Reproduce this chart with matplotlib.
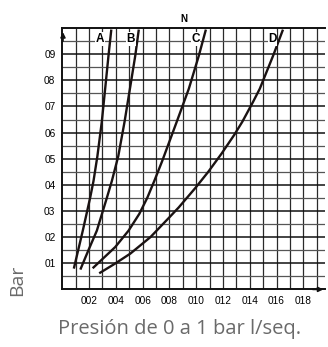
import matplotlib.pyplot as plt
import numpy as np

# curvas A, B, C, D (caudal l/seg, presion bar)
a_x = [0.0088, 0.0153, 0.0208, 0.0233, 0.0262, 0.0295, 0.032, 0.0345, 0.0365]
a_y = [0.084, 0.225, 0.351, 0.415, 0.51, 0.642, 0.768, 0.895, 0.99]
b_x = [0.0138, 0.0195, 0.0258, 0.0333, 0.037, 0.0418, 0.0465, 0.0505, 0.0545, 0.057]
b_y = [0.08, 0.15, 0.225, 0.351, 0.415, 0.51, 0.642, 0.768, 0.895, 0.99]
c_x = [0.0233, 0.0395, 0.0495, 0.0575, 0.0635, 0.0687, 0.0745, 0.080, 0.0855, 0.0945, 0.102, 0.107]
c_y = [0.084, 0.162, 0.225, 0.289, 0.351, 0.415, 0.49, 0.566, 0.642, 0.768, 0.895, 0.99]
d_x = [0.0283, 0.0395, 0.0508, 0.0658, 0.080, 0.087, 0.0995, 0.109, 0.119, 0.1285,
       0.1345, 0.1425, 0.1475, 0.1575, 0.1645]
d_y = [0.064, 0.099, 0.137, 0.2, 0.276, 0.314, 0.389, 0.45, 0.52, 0.592,
       0.642, 0.718, 0.768, 0.895, 0.99]

curvas = [(a_x, a_y, 'A', 0.028), (b_x, b_y, 'B', 0.051),
          (c_x, c_y, 'C', 0.0995), (d_x, d_y, 'D', 0.157)]

x_ticks = [0.02, 0.04, 0.06, 0.08, 0.10, 0.12, 0.14, 0.16, 0.18]
x_labels = ['002', '004', '006', '008', '010', '012', '014', '016', '018']
y_ticks = [0.1, 0.2, 0.3, 0.4, 0.5, 0.6, 0.7, 0.8, 0.9]
y_labels = ['01', '02', '03', '04', '05', '06', '07', '08', '09']

plt.rcParams['font.family'] = ['Liberation Sans', 'DejaVu Sans']

fig = plt.figure(figsize=(3.28, 3.47), dpi=100)
ax = fig.add_axes([0.19, 0.166, 0.80, 0.753])
ax.set_xlim(0, 0.196)
ax.set_ylim(0, 1.0)

# cuadricula
for xv in np.arange(0.01, 0.195, 0.01):
    ax.axvline(xv, color='#2a2a2a', lw=0.9, zorder=1)
for yv in np.arange(0.05, 0.99, 0.05):
    dark = abs(round(yv * 10) - yv * 10) < 1e-6
    ax.axhline(yv, color='#111111' if dark else '#555555',
               lw=1.1 if dark else 0.9, zorder=1)

for xs, ys, nombre, lx in curvas:
    ax.plot(xs, ys, color='#1a1212', lw=1.7, zorder=3, solid_joinstyle='round')
    ax.text(lx, 0.958, nombre, fontsize=8.5, fontweight='bold',
            ha='center', va='center', zorder=4,
            bbox=dict(facecolor='white', edgecolor='none', pad=0.5))

ax.text(0.091, 1.035, 'N', fontsize=7, fontweight='bold', ha='center', va='center')

ax.set_xticks(x_ticks)
ax.set_xticklabels(x_labels, fontsize=7.3)
ax.set_yticks(y_ticks)
ax.set_yticklabels(y_labels, fontsize=7.3)
ax.tick_params(axis='x', length=0, pad=5)
ax.tick_params(axis='y', length=0, pad=5)

for s in ['left', 'bottom', 'top']:
    ax.spines[s].set_linewidth(1.4)
    ax.spines[s].set_color('#111111')
ax.spines['right'].set_visible(False)

# flechas de los ejes
ax.annotate('', xy=(0.197, 0), xytext=(0.185, 0),
            arrowprops=dict(arrowstyle='-|>', color='#111111', lw=1.2, mutation_scale=7),
            annotation_clip=False)
ax.annotate('', xy=(0.0005, 0.995), xytext=(0.0005, 0.94),
            arrowprops=dict(arrowstyle='-|>', color='#111111', lw=1.2, mutation_scale=7),
            annotation_clip=False)

fig.text(0.053, 0.193, 'Bar', rotation=90, fontsize=14, color='#6a6a6a',
         ha='center', va='center', family=['Open Sans', 'DejaVu Sans'])
fig.text(0.546, 0.052, 'Presión de 0 a 1 bar l/seq.', fontsize=14.5, color='#6a6a6a',
         ha='center', va='center', family=['Open Sans', 'DejaVu Sans'])

fig.savefig('out.png', dpi=100)
